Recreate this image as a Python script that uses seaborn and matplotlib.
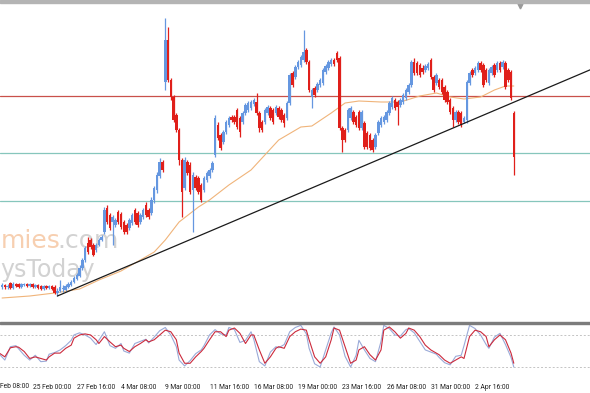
import matplotlib
matplotlib.use("Agg")
import matplotlib.pyplot as plt
from matplotlib.patches import Rectangle
from matplotlib.font_manager import FontProperties
from matplotlib.textpath import TextPath
import seaborn as sns
import numpy as np
import pandas as pd

# ---------------- data (4H candles, arbitrary price units) ----------------
opens = [113,115,113,117,112,116,116,113,115,116,114,116,113,115,114,111,114,112,114,113,
         107,109,111,110,113,115,118,121,124,132,140,157,160,155,150,155,160,168,192,185,
         178,175,188,186,178,175,172,177,190,187,178,183,195,190,187,200,210,224,238,318,
         360,320,303,285,270,240,212,238,235,210,223,222,215,210,220,224,230,245,275,265,
         258,268,275,283,283,290,282,278,287,290,292,296,298,287,278,278,287,292,290,287,
         292,290,285,282,297,327,323,333,335,340,350,338,303,312,310,315,317,328,332,336,
         340,347,342,272,270,270,282,288,283,288,272,277,267,265,260,253,267,275,278,280,
         287,293,300,298,295,298,302,308,315,338,337,335,332,330,332,340,323,317,320,320,
         313,308,300,292,280,288,287,278,280,317,330,327,330,337,335,330,317,327,335,330,
         337,333,337,330,328,287]
highs = [117,116,116,118,118,117,117,117,117,117,117,117,116,116,115,115,115,115,115,115,
         112,120,115,116,118,120,124,127,135,142,154,163,162,157,157,162,165,193,195,187,
         185,182,190,188,180,177,182,187,192,189,187,192,198,192,203,214,228,242,240,382,
         373,322,305,287,272,242,243,240,238,228,225,224,217,224,229,232,239,285,278,267,
         270,280,284,285,285,292,284,289,297,299,300,302,307,289,280,292,295,294,292,295,
         294,292,287,299,327,329,335,340,345,370,352,340,312,314,318,322,332,336,340,342,
         342,349,344,274,272,292,294,290,285,290,290,279,269,267,262,267,280,284,285,290,
         299,304,302,300,302,307,312,317,340,342,339,337,335,336,338,342,325,327,322,322,
         315,310,302,294,290,290,289,284,320,329,332,334,339,339,337,332,332,335,337,339,
         339,340,339,332,330,289]
lows = [111,111,111,111,111,113,112,112,114,113,113,112,112,111,110,110,111,111,110,106,
        104,108,108,109,112,114,117,120,123,130,138,146,151,144,148,154,159,166,176,170,
        155,173,176,171,166,166,170,175,176,173,176,181,183,181,185,197,207,222,228,310,
        318,300,278,268,235,183,210,225,206,168,210,206,198,208,218,222,228,243,260,250,
        256,266,273,278,276,271,263,276,285,288,290,294,285,268,268,276,285,280,276,285,
        281,278,273,280,295,313,321,331,333,338,336,308,292,303,308,313,315,326,330,334,
        334,338,270,248,258,268,280,276,273,270,270,251,251,250,248,251,265,273,276,278,
        285,291,290,275,293,296,300,306,313,325,325,323,326,328,330,321,308,315,311,306,
        298,296,286,273,278,276,273,277,277,315,323,325,328,328,313,318,315,325,323,328,
        328,331,311,318,300,225]
closes = [115,113,114,112,116,114,113,116,116,114,116,113,115,112,111,114,112,114,111,107,
          109,113,112,114,116,118,122,125,132,140,152,148,153,145,155,160,163,190,178,172,
          183,180,178,173,168,168,180,185,178,175,185,190,185,183,200,212,225,238,230,360,
          320,303,280,270,240,208,240,227,208,225,212,208,200,222,227,230,237,282,262,252,
          268,278,282,280,278,273,268,287,295,297,298,300,287,272,270,290,293,282,278,293,
          283,280,277,297,325,315,333,338,343,348,338,310,310,305,316,320,330,334,338,340,
          336,340,272,260,260,290,292,278,275,272,288,253,253,252,250,265,278,282,283,288,
          297,302,292,293,300,305,310,315,338,327,327,325,328,334,336,323,310,325,313,308,
          300,298,288,280,288,278,275,282,318,327,325,332,337,330,315,320,330,333,325,337,
          330,338,313,320,302,243]

# moving average (orange), read at selected bars
ma_bars = [0, 10, 19, 28, 35, 43, 50, 55, 59, 64, 71, 75, 82, 90, 95, 100, 108, 112, 119, 124,
           129, 137, 144, 151, 157, 162, 167, 173, 178, 182, 185]
ma_vals = [102, 104, 107, 111, 120, 129, 140, 148, 160, 178, 193, 200, 215, 230, 245, 260, 273, 274, 287, 297,
           299, 298, 298, 304, 307, 303, 301, 303, 310, 314, 314]

# stochastic oscillator readings
stoch_bars = [-1,1,3,5,6,8,10,12,14,16,17,19,21,23,25,26,28,30,32,34,35,37,39,41,43,44,46,48,50,52,
              53,55,57,59,61,63,64,66,68,70,72,73,75,77,79,81,82,84,86,88,90,91,93,95,97,99,100,102,104,106,
              108,110,111,113,115,117,119,120,122,124,126,128,129,131,133,135,137,138,140,142,144,146,147,149,151,153,
              155,157,158,160,162,164,166,167,169,171,173,175,176,178,180,182,184,185]
stoch_d = [46,39,56,58,57,49,36,39,36,33,39,46,46,55,61,74,80,82,80,71,64,77,67,58,61,55,49,58,64,71,
           67,71,80,89,86,71,46,27,27,39,49,55,71,86,86,77,89,93,83,64,80,80,52,27,39,55,58,55,77,86,
           91,89,71,39,27,39,71,93,89,58,27,33,52,58,43,33,52,89,95,86,74,83,93,89,77,61,
           52,46,43,33,27,33,39,36,77,89,86,77,58,71,80,71,46,27]
stoch_k = [44,33,58,60,54,42,33,42,30,31,44,47,52,60,70,80,84,80,74,62,70,86,60,55,64,50,46,64,68,72,
           65,76,88,94,80,58,33,22,32,45,52,60,80,90,82,80,94,90,66,70,86,72,30,22,48,58,56,62,86,94,
           98,82,55,26,20,52,84,95,80,40,20,42,70,52,36,30,68,98,92,80,78,90,92,84,68,52,
           48,44,38,28,24,40,42,60,98,92,80,62,55,76,83,62,38,20]

tick_bars = [11, 27, 43, 59, 75, 91, 107, 123, 139, 155, 171]
tick_labels = ["25 Feb 00:00", "27 Feb 16:00", "4 Mar 08:00", "9 Mar 00:00",
               "11 Mar 16:00", "16 Mar 08:00", "19 Mar 00:00", "23 Mar 16:00", "26 Mar 08:00",
               "31 Mar 00:00", "2 Apr 16:00"]
first_label = "Feb 08:00"

resistance_level = 304
support_levels = [247, 199]
trend_bars = [20, 215]
trend_vals = [104, 333]

# ---------------- style ----------------
sns.set_style("white")
plt.rcParams['font.family'] = ['DejaVu Sans']

# narrowest available sans for the time axis labels
cands = [FontProperties(family=f) for f in
         ["Liberation Sans Narrow", "Liberation Sans", "Roboto", "Lato", "Open Sans"]]
cands.append(FontProperties(family="DejaVu Sans", stretch="condensed"))
widths = [TextPath((0, 0), "25 Feb 00:00", size=10, prop=p).get_extents().width for p in cands]
lab_prop = cands[int(np.argmin(widths))].copy()
lab_size = float(np.clip(10 * 27.5 / min(widths), 4.5, 5.6))
lab_prop.set_size(lab_size)

BULL = "#6597e0"
BEAR = "#e01f1a"

W, H = 590, 393
fig = plt.figure(figsize=(W / 100, H / 100), dpi=100)
fig.patch.set_facecolor("white")

def band(top, bottom):
    return [0, 1 - bottom / H, 1, (bottom - top) / H]

ax = fig.add_axes(band(3, 321))
ax2 = fig.add_axes(band(323, 378))

XMIN, XMAX = -0.75, 212.55
for a in (ax, ax2):
    a.set_xlim(XMIN, XMAX)
    for s in a.spines.values():
        s.set_visible(False)
    a.set_yticks([])
    a.set_facecolor("white")
ax.set_xticks([])
ax.set_ylim(79, 397)
ax2.set_ylim(-0.6, 102.4)

# candles
df = pd.DataFrame(dict(bar=np.arange(len(closes)), open=opens, high=highs, low=lows, close=closes))
up = df["close"] >= df["open"]
cols = np.where(up, BULL, BEAR)
ax.vlines(df["bar"], df["low"], df["high"], colors=cols, linewidth=0.9, zorder=3)
body = (df["close"] - df["open"]).abs().clip(lower=1.0)
ax.bar(df["bar"], body, bottom=np.minimum(df["open"], df["close"]), width=0.9,
       color=cols, linewidth=0, zorder=4)

# horizontal levels
ax.axhline(resistance_level, color="#c9504a", lw=0.9, zorder=2)
for lv in support_levels:
    ax.axhline(lv, color="#86c6bc", lw=0.9, zorder=2)

# moving average + trend line
ma_df = pd.DataFrame(dict(bar=ma_bars, ma=ma_vals))
sns.lineplot(data=ma_df, x="bar", y="ma", ax=ax, color="#f0b47a", lw=0.8, zorder=2.5, legend=False)
tr_df = pd.DataFrame(dict(bar=trend_bars, v=trend_vals))
sns.lineplot(data=tr_df, x="bar", y="v", ax=ax, color="#1a1a1a", lw=0.9, zorder=5, legend=False)
ax.set_xlabel(""); ax.set_ylabel("")

# watermark (the part visible at the left edge)
wm = dict(transform=fig.transFigure, fontsize=18, va="baseline", ha="left", zorder=1)
ax.text(0.5 / W, 1 - 248 / H, "mies", color="#f7cfb0", **wm)
ax.text(57 / W, 1 - 248 / H, ".com", color="#d2d2d2", **wm)
ax.text(0.5 / W, 1 - 277 / H, "ysToday", color="#d2d2d2", fontsize=17, transform=fig.transFigure,
        va="baseline", ha="left", zorder=1)

# chart-shift marker
ax.plot([187.2], [394], marker="v", ms=3.5, color="#9a9a9a", clip_on=False, zorder=6)

# stochastic
st = pd.DataFrame(dict(bar=stoch_bars, k=stoch_k, d=stoch_d))
sns.lineplot(data=st, x="bar", y="k", ax=ax2, color="#9aaad8", lw=0.8, legend=False)
sns.lineplot(data=st, x="bar", y="d", ax=ax2, color="#cc2a3c", lw=0.8, legend=False)
for lv in (80, 20):
    ax2.axhline(lv, color="#c4c4c4", lw=0.7, ls=(0, (2, 2)), zorder=0.5)
ax2.set_xlabel(""); ax2.set_ylabel("")
ax2.set_xticks(tick_bars)
ax2.set_xticklabels(tick_labels, ha="left", fontproperties=lab_prop, color="#222222")
ax2.tick_params(axis="x", length=3, width=0.7, color="#333333", pad=1.5, direction="out")
ax2.text(0.5 / W, 1 - 387.5 / H, first_label, transform=fig.transFigure, ha="left",
         va="baseline", fontproperties=lab_prop, color="#222222")

# panel borders
fig.patches.append(Rectangle((0, 1 - 3 / H), 1, 3 / H, transform=fig.transFigure,
                             color="#b4b4b4", zorder=10))
fig.patches.append(Rectangle((0, 1 - 323.5 / H), 1, 2 / H, transform=fig.transFigure,
                             color="#7c7c7c", zorder=10))

fig.savefig("out.png", dpi=100, facecolor="white")
